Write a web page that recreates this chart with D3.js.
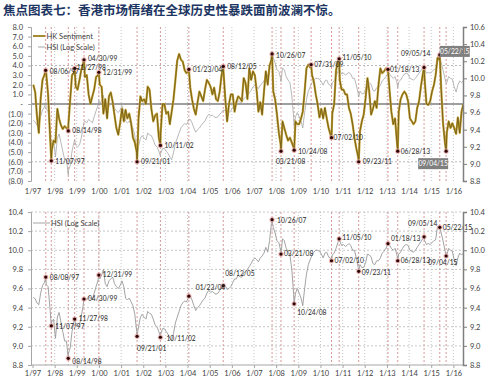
<!DOCTYPE html>
<html>
<head>
<meta charset="utf-8">
<script src="https://cdn.jsdelivr.net/npm/d3@7"></script>
<style>
body { margin: 0; background: #fff; }
text { font-family: Lato, "Open Sans", sans-serif; }
</style>
</head>
<body>
<div id="chart"></div>
<script>
var width = 500,
    height = 390;

// HSI, natural log, mid-month, Jan 1997 .. Jun 2016
var hsiLog = [
    9.51, 9.49, 9.45, 9.43, 9.55, 9.63, 9.66, 9.64, 9.62, 9.40, 9.25, 9.28,
    9.08, 9.30, 9.35, 9.25, 9.15, 9.05, 9.05, 8.92, 8.98, 9.15, 9.25, 9.22,
    9.20, 9.22, 9.30, 9.42, 9.50, 9.48, 9.52, 9.50, 9.48, 9.55, 9.62, 9.68,
    9.70, 9.74, 9.80, 9.65, 9.62, 9.68, 9.70, 9.72, 9.65, 9.62, 9.60, 9.63,
    9.68, 9.62, 9.50, 9.48, 9.50, 9.46, 9.42, 9.33, 9.15, 9.20, 9.30, 9.33,
    9.30, 9.28, 9.36, 9.34, 9.33, 9.28, 9.22, 9.20, 9.15, 9.12, 9.18, 9.18,
    9.15, 9.12, 9.08, 9.05, 9.13, 9.24, 9.30, 9.36, 9.42, 9.45, 9.47, 9.46,
    9.50, 9.52, 9.48, 9.42, 9.37, 9.40, 9.42, 9.45, 9.48, 9.50, 9.55, 9.58,
    9.56, 9.57, 9.55, 9.54, 9.55, 9.58, 9.60, 9.62, 9.63, 9.59, 9.60, 9.62,
    9.66, 9.70, 9.70, 9.74, 9.72, 9.72, 9.76, 9.78, 9.80, 9.83, 9.86, 9.90,
    9.92, 9.90, 9.88, 9.92, 9.94, 9.97, 10.03, 9.98, 10.10, 10.28, 10.24, 10.18,
    10.10, 10.08, 10.00, 10.12, 10.10, 10.02, 9.98, 9.95, 9.80, 9.55, 9.55, 9.60,
    9.55, 9.50, 9.42, 9.60, 9.75, 9.85, 9.90, 9.95, 9.98, 10.00, 10.00, 9.99,
    9.96, 9.92, 9.97, 9.98, 9.93, 9.92, 9.95, 9.97, 10.02, 10.08, 10.10, 10.05,
    10.06, 10.04, 10.05, 10.07, 10.05, 10.00, 10.00, 9.92, 9.82, 9.85, 9.82, 9.82,
    9.87, 9.96, 9.95, 9.93, 9.86, 9.85, 9.89, 9.89, 9.92, 9.97, 9.99, 10.02,
    10.06, 10.05, 10.02, 10.00, 10.02, 9.95, 9.96, 9.98, 10.02, 10.05, 10.06, 10.05,
    10.00, 9.99, 9.98, 10.00, 10.03, 10.06, 10.09, 10.12, 10.10, 10.06, 10.07, 10.06,
    10.08, 10.10, 10.11, 10.25, 10.23, 10.18, 10.10, 10.00, 9.95, 10.02, 10.00, 9.99,
    9.90, 9.84, 9.92, 9.97, 9.95, 9.97
];

// HK sentiment, mid-month, Jan 1997 .. Jun 2016
var sentiment = [
    2.0, 1.2, -1.2, -3.0, 0.5, 2.5, 3.0, 3.2, 1.0, -3.0, -4.8, -3.8,
    -4.0, -0.5, -1.5, -2.2, -2.6, -2.3, -2.5, -2.2, 0.5, 3.0, 3.2, 1.8,
    1.5, 2.5, 3.5, 4.2, 2.8, 3.0, 1.0, 0.0, 0.8, 1.5, 2.8, 3.0,
    2.0, 1.8, -1.0, 0.5, -1.5, 0.8, 1.2, 0.2, -1.2, -2.5, -3.2, -2.0,
    -0.5, -1.8, -0.6, -1.5, -1.0, -2.0, -3.5, -4.0, -5.0, -1.5, 0.8, 0.3,
    0.5, 0.0, 1.8, 1.5, -0.5, -1.8, -1.2, -1.0, -3.5, -3.0, 0.0, 0.0,
    -1.0, -0.8, -2.1, -0.8, 0.5, 2.5, 4.5, 5.2, 4.6, 4.4, 3.5, 3.2,
    3.4, 1.7, 0.5, -0.5, -1.1, 0.2, 1.3, 0.8, 0.3, 1.5, 2.5, 2.2,
    1.8, 1.0, 1.7, 0.5, 0.3, 1.3, 3.0, 3.5, 0.5, -1.8, 0.0, 1.0,
    1.0, -0.8, 0.2, 0.8, 0.6, 0.3, 2.7, 2.2, 0.5, 3.7, 2.5, 3.4,
    3.0, 1.3, -0.8, 0.2, -1.1, 1.3, 3.4, 2.0, 4.0, 4.6, 1.3, 0.5,
    -1.1, -3.0, -4.2, -1.8, -2.5, -3.2, -3.8, -3.5, -4.0, -4.5, -1.8, -2.1,
    -2.1, -1.5, -0.8, 1.3, 3.7, 4.1, 3.8, 3.0, 2.3, 1.0, 0.0, -1.4,
    -0.5, -1.5, -0.4, -1.5, -2.5, -3.2, -1.0, 0.0, 3.5, 4.4, 2.5, 1.5,
    1.5, 1.0, 1.0, -0.4, -1.0, -2.1, -3.5, -4.6, -5.5, -2.8, -1.8, -1.1,
    0.6, 2.7, 1.3, -1.1, -0.5, 0.3, -0.4, 2.0, 3.7, 3.2, 3.4, 3.7,
    3.4, 1.3, -0.8, -2.1, -1.5, -4.0, -0.8, 0.5, 1.0, 1.3, 1.0, 0.3,
    -1.5, -1.8, -2.1, -1.8, -0.4, 0.3, 1.8, 3.1, 2.5, 0.0, -0.1, 0.3,
    1.3, 2.0, 3.0, 4.8, 4.6, 1.5, -2.0, -4.0, -3.0, -1.8, -2.5, -2.0,
    -2.5, -3.1, -1.4, -3.0, -0.8, 0.0
];

// marked dates: sentiment value (top chart)
var topEvents = [
    ["08/06/97", 3.5], ["11/07/97", -5.9], ["08/14/98", -2.8], ["11/27/98", 3.7],
    ["04/30/99", 4.6], ["12/31/99", 3.3], ["09/21/01", -6.0], ["10/11/02", -4.3],
    ["01/23/04", 3.6], ["08/12/05", 3.9], ["10/26/07", 5.2], ["03/21/08", -4.9],
    ["10/24/08", -4.8], ["07/31/09", 4.1], ["07/02/10", -3.5], ["11/05/10", 4.7],
    ["09/23/11", -6.0], ["01/18/13", 3.6], ["06/28/13", -4.9], ["09/05/14", 3.8],
    ["05/22/15", 5.1], ["09/04/15", -4.9]
];

// marked dates: log HSI value (bottom chart)
var bottomEvents = [
    ["08/08/97", 9.72], ["11/07/97", 9.21], ["08/14/98", 8.87], ["11/27/98", 9.28],
    ["04/30/99", 9.49], ["12/31/99", 9.74], ["09/21/01", 9.10], ["10/11/02", 9.09],
    ["01/23/04", 9.52], ["08/12/05", 9.63], ["10/26/07", 10.32], ["03/21/08", 9.96],
    ["10/24/08", 9.44], ["07/02/10", 9.89], ["11/05/10", 10.12], ["09/23/11", 9.78],
    ["01/18/13", 10.07], ["06/28/13", 9.89], ["09/05/14", 10.14], ["05/22/15", 10.24],
    ["09/04/15", 9.94]
];

var years = d3.range(1997, 2017);
var sentTicks = d3.range(-8, 9);
var hsiTopTicks = [8.8, 9.0, 9.2, 9.4, 9.6, 9.8, 10.0, 10.2, 10.4, 10.6];
var hsiBottomTicks = [8.8, 9.0, 9.2, 9.4, 9.6, 9.8, 10.0, 10.2, 10.4];

// label offsets [dx, dy] from the marker
var topLabelPos = {
    "08/06/97": [4, 1], "11/07/97": [4, 1], "08/14/98": [4, 0], "11/27/98": [2, -1],
    "04/30/99": [4, -1], "12/31/99": [4, 0], "09/21/01": [4, 0], "10/11/02": [4, 0],
    "01/23/04": [4, 0], "08/12/05": [4, 0], "10/26/07": [4, 2], "03/21/08": [-5, 10],
    "10/24/08": [4, 1], "07/31/09": [3, 0], "07/02/10": [2, 0], "11/05/10": [3, -1],
    "09/23/11": [4, 0], "01/18/13": [2, 0], "06/28/13": [3, 0], "09/05/14": [-23, -14]
};
var topBoxPos = { "05/22/15": [0, -9], "09/04/15": [-28, 7] };
var bottomLabelPos = {
    "08/08/97": [4, 1], "11/07/97": [4, 1], "08/14/98": [4, 3], "11/27/98": [4, 0],
    "04/30/99": [4, 0], "12/31/99": [4, 0], "09/21/01": [0, 12], "10/11/02": [6, 1],
    "01/23/04": [7, -8], "08/12/05": [2, -12], "10/26/07": [5, 1], "03/21/08": [3, 0],
    "10/24/08": [3, 9], "07/02/10": [3, 0], "11/05/10": [3, -1], "09/23/11": [3, 1],
    "01/18/13": [3, -5], "06/28/13": [3, 0], "09/05/14": [-16, -13], "05/22/15": [3, 0],
    "09/04/15": [-18, 7]
};

var parseDate = d3.timeParse("%m/%d/%y");
var monthDates = hsiLog.map(function(d, i) { return d3.timeMonth.offset(new Date(1997, 0, 15), i); });

function merge(values, events) {
    return values.map(function(v, i) { return { date: monthDates[i], value: v }; })
        .concat(events.map(function(e) { return { date: parseDate(e[0]), value: e[1], label: e[0] }; }))
        .sort(function(a, b) { return a.date - b.date; });
}

var sentData = merge(sentiment, topEvents);
var hsiData = merge(hsiLog, bottomEvents);

var left = 31, right = 463;
var top1 = 27, bot1 = 181, top2 = 212, bot2 = 365;

var x = d3.scaleTime()
    .domain([new Date(1997, 0, 1), new Date(2016, 5, 8)])
    .range([32.5, right]);

var ySent = d3.scaleLinear().domain([-8, 8]).range([bot1, top1]);
var yHsiTop = d3.scaleLinear().domain([8.8, 10.6]).range([bot1, top1]);
var yHsiBot = d3.scaleLinear().domain([8.8, 10.4]).range([bot2, top2]);

var svg = d3.select("#chart").append("svg")
    .attr("width", width)
    .attr("height", height);

svg.append("text")
    .attr("x", 3)
    .attr("y", 15)
    .style("font-family", "'Noto Sans CJK SC', sans-serif")
    .style("font-size", "12.5px")
    .style("font-weight", "bold")
    .attr("fill", "#1c3562")
    .text("焦点图表七：香港市场情绪在全球历史性暴跌面前波澜不惊。");

var defs = svg.append("defs");
defs.append("clipPath").attr("id", "clipTop").append("rect")
    .attr("x", left).attr("y", top1 - 2).attr("width", right - left).attr("height", bot1 - top1 + 4);
defs.append("clipPath").attr("id", "clipBot").append("rect")
    .attr("x", left).attr("y", top2 - 2).attr("width", right - left).attr("height", bot2 - top2 + 4);

function yearLines(g, y0, y1) {
    g.selectAll(".year-line")
        .data(years.slice(1))
        .enter().append("line")
        .attr("class", "year-line")
        .attr("x1", function(d) { return x(new Date(d, 0, 1)); })
        .attr("x2", function(d) { return x(new Date(d, 0, 1)); })
        .attr("y1", y0).attr("y2", y1)
        .attr("stroke", "#b8b8b8")
        .attr("stroke-width", 0.8)
        .attr("stroke-dasharray", "1,2");
}

function eventLines(g, events, y0, y1) {
    g.selectAll(".event-line")
        .data(events)
        .enter().append("line")
        .attr("class", "event-line")
        .attr("x1", function(d) { return x(parseDate(d[0])); })
        .attr("x2", function(d) { return x(parseDate(d[0])); })
        .attr("y1", y0).attr("y2", y1)
        .attr("stroke", "#d48c8c")
        .attr("stroke-width", 0.9)
        .attr("stroke-dasharray", "2,2");
}

function markers(g, events, y) {
    var m = g.selectAll(".marker")
        .data(events)
        .enter().append("g")
        .attr("class", "marker")
        .attr("transform", function(d) { return "translate(" + x(parseDate(d[0])) + "," + y(d[1]) + ")"; });
    m.append("circle").attr("r", 2.6).attr("fill", "#e6a3a3").attr("opacity", 0.8);
    m.append("circle").attr("r", 1.6).attr("fill", "#2a0606");
}

function labels(g, events, y, pos) {
    g.selectAll(".event-label")
        .data(events.filter(function(d) { return pos[d[0]]; }))
        .enter().append("text")
        .attr("class", "event-label")
        .attr("x", function(d) { return x(parseDate(d[0])) + pos[d[0]][0]; })
        .attr("y", function(d) { return y(d[1]) + pos[d[0]][1]; })
        .attr("dy", "0.35em")
        .style("font-size", "6.7px")
        .attr("fill", "#262626")
        .text(function(d) { return d[0]; });
}

function styleAxis(g, domainColor, domainWidth) {
    g.selectAll("text").style("font-size", "7.5px").attr("fill", "#404040");
    g.selectAll(".tick line").attr("stroke", domainColor);
    g.select(".domain").attr("stroke", domainColor).attr("stroke-width", domainWidth);
}

// ---------- top chart ----------
var topG = svg.append("g");

yearLines(topG, top1, bot1);
eventLines(topG, topEvents, top1, bot1);

topG.selectAll(".hgrid")
    .data([4, -6])
    .enter().append("line")
    .attr("class", "hgrid")
    .attr("x1", left).attr("x2", right)
    .attr("y1", function(d) { return ySent(d); })
    .attr("y2", function(d) { return ySent(d); })
    .attr("stroke", "#a6a6a6")
    .attr("stroke-width", 0.8)
    .attr("stroke-dasharray", "2,2");

topG.append("line")
    .attr("x1", left).attr("x2", right)
    .attr("y1", ySent(0)).attr("y2", ySent(0))
    .attr("stroke", "#404040")
    .attr("stroke-width", 1.1);

var lineHsiTop = d3.line()
    .x(function(d) { return x(d.date); })
    .y(function(d) { return yHsiTop(d.value); });

var lineSent = d3.line()
    .x(function(d) { return x(d.date); })
    .y(function(d) { return ySent(d.value); });

var topLines = topG.append("g").attr("clip-path", "url(#clipTop)");

topLines.append("path")
    .datum(hsiData)
    .attr("d", lineHsiTop)
    .attr("fill", "none")
    .attr("stroke", "#a6a6a6")
    .attr("stroke-width", 0.8);

topLines.append("path")
    .datum(sentData)
    .attr("d", lineSent)
    .attr("fill", "none")
    .attr("stroke", "#c4a032")
    .attr("stroke-width", 2.2)
    .attr("stroke-linejoin", "round");

topLines.append("path")
    .datum(sentData)
    .attr("d", lineSent)
    .attr("fill", "none")
    .attr("stroke", "#6f5c18")
    .attr("stroke-width", 0.9)
    .attr("stroke-linejoin", "round");

markers(topG, topEvents, ySent);
labels(topG, topEvents, ySent, topLabelPos);

var boxes = topG.selectAll(".box-label")
    .data(topEvents.filter(function(d) { return topBoxPos[d[0]]; }))
    .enter().append("g")
    .attr("class", "box-label")
    .attr("transform", function(d) {
        var p = topBoxPos[d[0]];
        return "translate(" + (x(parseDate(d[0])) + p[0]) + "," + (ySent(d[1]) + p[1]) + ")";
    });
boxes.append("rect").attr("width", 30).attr("height", 11).attr("fill", "#808080");
boxes.append("text")
    .attr("x", 15).attr("y", 5.5).attr("dy", "0.35em")
    .attr("text-anchor", "middle")
    .style("font-size", "6.7px")
    .attr("fill", "#fff")
    .text(function(d) { return d[0]; });

var fmt1 = d3.format(".1f");
var fmtSent = function(v) {
    if (v === 0) return "-";
    return v > 0 ? fmt1(v) : "(" + fmt1(-v) + ")";
};

var axLeftTop = topG.append("g")
    .attr("transform", "translate(" + left + ",0)")
    .call(d3.axisLeft(ySent).tickValues(sentTicks).tickSize(3).tickPadding(5).tickFormat(fmtSent));
styleAxis(axLeftTop, "#a6a6a6", 1);

var axRightTop = topG.append("g")
    .attr("transform", "translate(" + right + ",0)")
    .call(d3.axisRight(yHsiTop).tickValues(hsiTopTicks).tickSize(4).tickPadding(3).tickFormat(fmt1));
styleAxis(axRightTop, "#7f7f7f", 1.5);

var axBottomTop = topG.append("g")
    .attr("transform", "translate(0," + bot1 + ")")
    .call(d3.axisBottom(x)
        .tickValues(years.map(function(y) { return new Date(y, 0, 1); }))
        .tickSize(0).tickPadding(8)
        .tickFormat(d3.timeFormat("%-m/%y")));
axBottomTop.select(".domain").remove();
styleAxis(axBottomTop, "#a6a6a6", 1);

// legend
topG.append("line").attr("x1", 33).attr("x2", 45).attr("y1", 36).attr("y2", 36)
    .attr("stroke", "#9c7c1c").attr("stroke-width", 1.8);
topG.append("line").attr("x1", 38).attr("x2", 45).attr("y1", 47).attr("y2", 47)
    .attr("stroke", "#a6a6a6").attr("stroke-width", 1);
topG.selectAll(".legend")
    .data([["HK Sentiment", 36], ["HSI (Log Scale)", 47]])
    .enter().append("text")
    .attr("x", 46.5).attr("y", function(d) { return d[1]; }).attr("dy", "0.35em")
    .style("font-size", "7.5px").attr("fill", "#404040")
    .text(function(d) { return d[0]; });

// ---------- bottom chart ----------
var botG = svg.append("g");

yearLines(botG, top2, bot2);
eventLines(botG, bottomEvents, top2, bot2);

botG.selectAll(".hgrid")
    .data(hsiBottomTicks.slice(1))
    .enter().append("line")
    .attr("class", "hgrid")
    .attr("x1", left).attr("x2", right)
    .attr("y1", function(d) { return yHsiBot(d); })
    .attr("y2", function(d) { return yHsiBot(d); })
    .attr("stroke", "#b8b8b8")
    .attr("stroke-width", 0.8)
    .attr("stroke-dasharray", "2,2");

var lineHsiBot = d3.line()
    .x(function(d) { return x(d.date); })
    .y(function(d) { return yHsiBot(d.value); });

botG.append("g").attr("clip-path", "url(#clipBot)")
    .append("path")
    .datum(hsiData)
    .attr("d", lineHsiBot)
    .attr("fill", "none")
    .attr("stroke", "#999")
    .attr("stroke-width", 0.9);

markers(botG, bottomEvents, yHsiBot);
labels(botG, bottomEvents, yHsiBot, bottomLabelPos);

var axLeftBot = botG.append("g")
    .attr("transform", "translate(" + left + ",0)")
    .call(d3.axisLeft(yHsiBot).tickValues(hsiBottomTicks).tickSize(3).tickPadding(5).tickFormat(fmt1));
styleAxis(axLeftBot, "#a6a6a6", 1);

var axRightBot = botG.append("g")
    .attr("transform", "translate(" + right + ",0)")
    .call(d3.axisRight(yHsiBot).tickValues(hsiBottomTicks).tickSize(4).tickPadding(3).tickFormat(fmt1));
styleAxis(axRightBot, "#7f7f7f", 1.5);

var axBottomBot = botG.append("g")
    .attr("transform", "translate(0," + bot2 + ")")
    .call(d3.axisBottom(x)
        .tickValues(years.map(function(y) { return new Date(y, 0, 1); }))
        .tickSize(3).tickPadding(3)
        .tickFormat(d3.timeFormat("%-m/%y")));
axBottomBot.select(".domain").attr("d", "M" + left + ",0H" + right);
styleAxis(axBottomBot, "#a6a6a6", 1);

botG.append("line").attr("x1", 33).attr("x2", 50).attr("y1", 223).attr("y2", 223)
    .attr("stroke", "#a6a6a6").attr("stroke-width", 1);
botG.append("text")
    .attr("x", 51).attr("y", 223).attr("dy", "0.35em")
    .style("font-size", "7.5px").attr("fill", "#404040")
    .text("HSI (Log Scale)");
</script>
</body>
</html>
